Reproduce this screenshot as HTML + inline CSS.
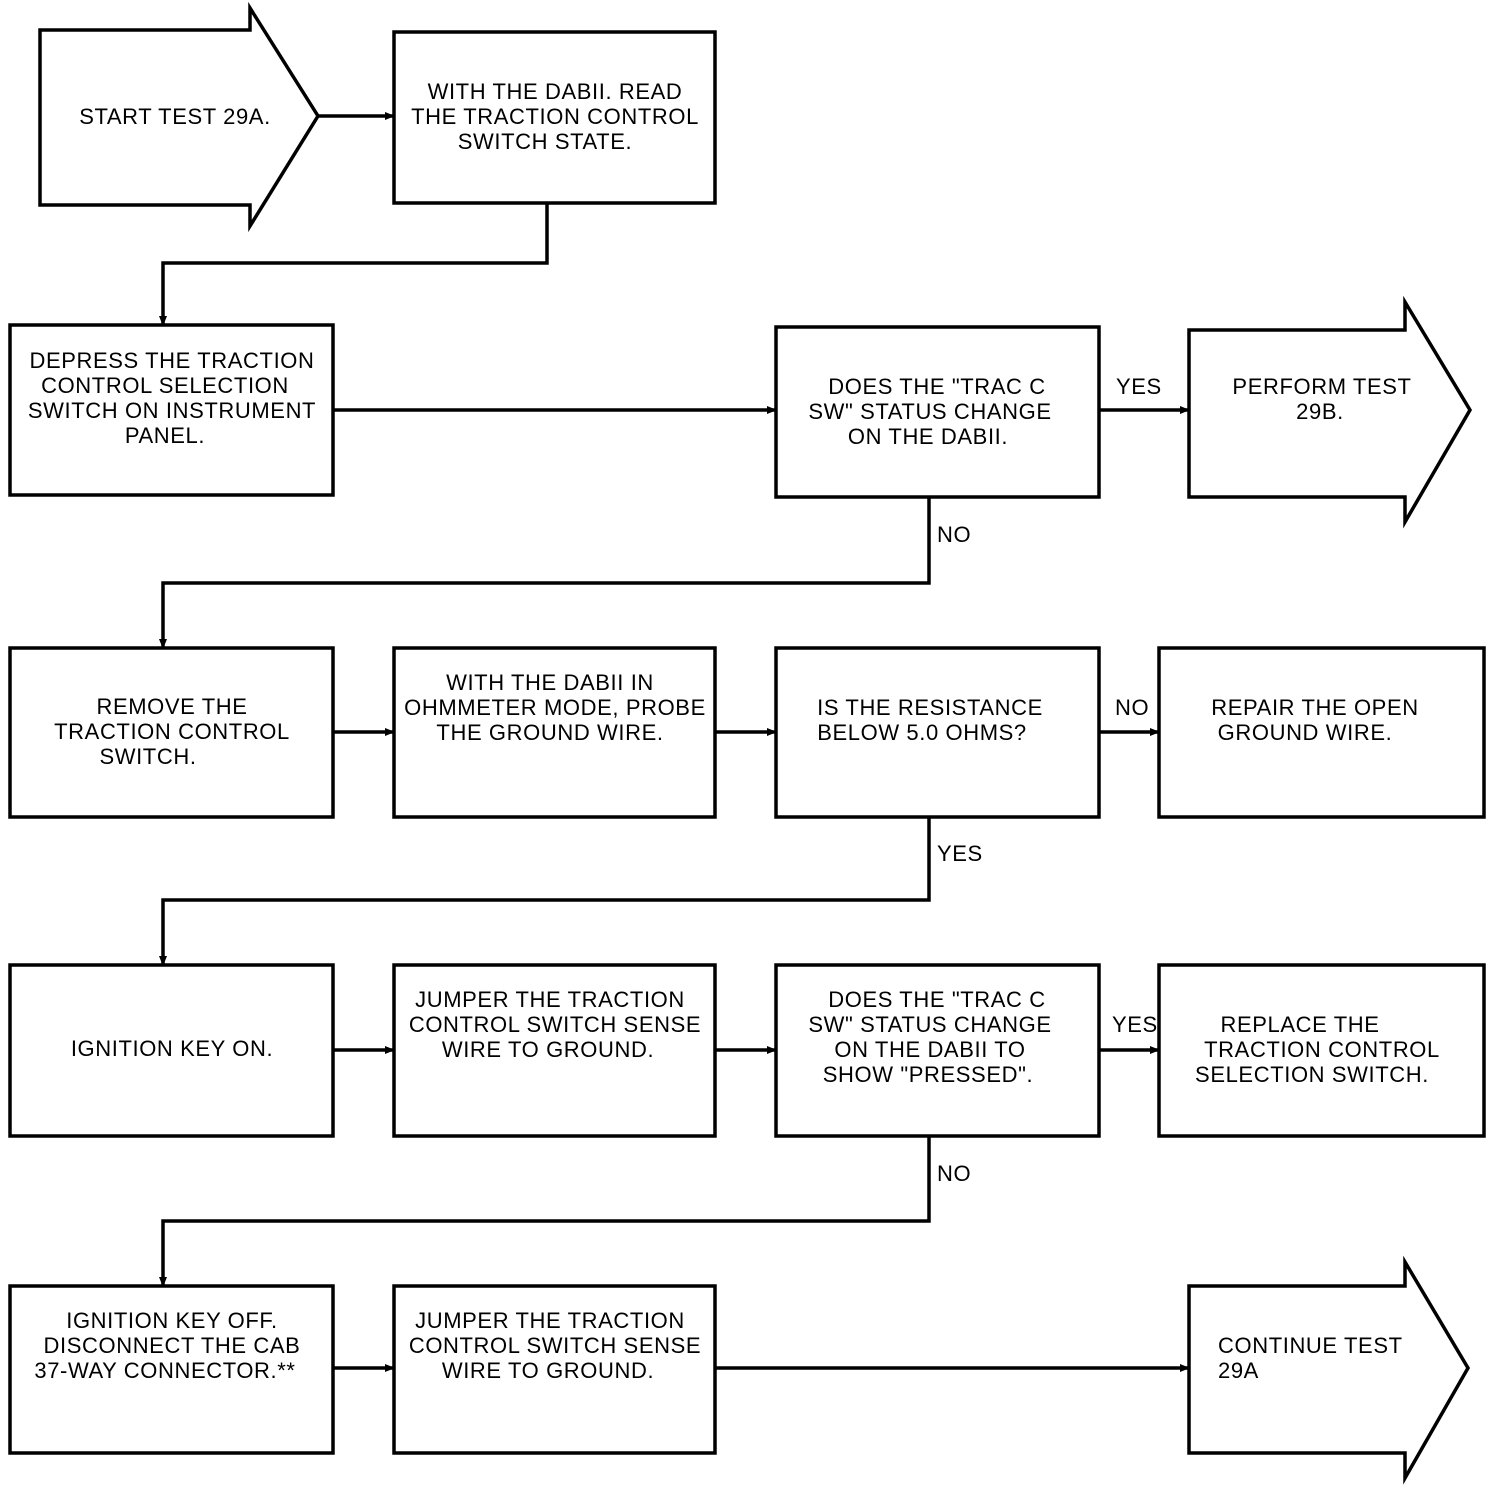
<!DOCTYPE html>
<html><head><meta charset="utf-8"><style>
html,body{margin:0;padding:0;background:#fff}
svg{display:block}
text{font-family:"Liberation Sans",sans-serif;font-size:22px;fill:#000;letter-spacing:0.6px}
</style></head><body>
<svg width="1504" height="1486" viewBox="0 0 1504 1486" xmlns="http://www.w3.org/2000/svg">
<defs><marker id="a" markerWidth="10" markerHeight="10" refX="9" refY="5" orient="auto" markerUnits="userSpaceOnUse"><path d="M0,1 L10,5 L0,9 Z" fill="#000"/></marker></defs>
<g fill="none" stroke="#000" stroke-width="3.5">
<path d="M40,30 H250 V8 L318,116 L250,226 V205 H40 Z"/>
<rect x="394" y="32" width="321" height="171"/>
<path d="M318,116 H394" marker-end="url(#a)"/>
<path d="M547,203 V263 H163 V325" marker-end="url(#a)"/>
<rect x="10" y="325" width="323" height="170"/>
<path d="M333,410 H776" marker-end="url(#a)"/>
<rect x="776" y="327" width="323" height="170"/>
<path d="M1099,410 H1189" marker-end="url(#a)"/>
<path d="M1189,330 H1405 V302 L1470,410 L1405,522 V497 H1189 Z"/>
<path d="M929,497 V583 H163 V648" marker-end="url(#a)"/>
<rect x="10" y="648" width="323" height="169"/>
<rect x="394" y="648" width="321" height="169"/>
<rect x="776" y="648" width="323" height="169"/>
<rect x="1159" y="648" width="325" height="169"/>
<path d="M333,732 H394" marker-end="url(#a)"/>
<path d="M715,732 H776" marker-end="url(#a)"/>
<path d="M1099,732 H1159" marker-end="url(#a)"/>
<path d="M929,817 V900 H163 V965" marker-end="url(#a)"/>
<rect x="10" y="965" width="323" height="171"/>
<rect x="394" y="965" width="321" height="171"/>
<rect x="776" y="965" width="323" height="171"/>
<rect x="1159" y="965" width="325" height="171"/>
<path d="M333,1050 H394" marker-end="url(#a)"/>
<path d="M715,1050 H776" marker-end="url(#a)"/>
<path d="M1099,1050 H1159" marker-end="url(#a)"/>
<path d="M929,1136 V1221 H163 V1286" marker-end="url(#a)"/>
<rect x="10" y="1286" width="323" height="167"/>
<rect x="394" y="1286" width="321" height="167"/>
<path d="M333,1368 H394" marker-end="url(#a)"/>
<path d="M715,1368 H1189" marker-end="url(#a)"/>
<path d="M1189,1286 H1405 V1262 L1468,1368 L1405,1478 V1453 H1189 Z"/>
</g>
<g text-anchor="middle">
<text x="175" y="124">START TEST 29A.</text>
<text x="555" y="99">WITH THE DABII. READ</text>
<text x="555" y="124">THE TRACTION CONTROL</text>
<text x="545" y="149">SWITCH STATE.</text>
<text x="172" y="368">DEPRESS THE TRACTION</text>
<text x="165" y="393">CONTROL SELECTION</text>
<text x="172" y="418">SWITCH ON INSTRUMENT</text>
<text x="165" y="443">PANEL.</text>
<text x="937" y="394">DOES THE "TRAC C</text>
<text x="930" y="419">SW" STATUS CHANGE</text>
<text x="928" y="444">ON THE DABII.</text>
<text x="1322" y="394">PERFORM TEST</text>
<text x="1320" y="419">29B.</text>
<text x="172" y="714">REMOVE THE</text>
<text x="172" y="739">TRACTION CONTROL</text>
<text x="148" y="764">SWITCH.</text>
<text x="550" y="690">WITH THE DABII IN</text>
<text x="555" y="715">OHMMETER MODE, PROBE</text>
<text x="550" y="740">THE GROUND WIRE.</text>
<text x="930" y="715">IS THE RESISTANCE</text>
<text x="922" y="740">BELOW 5.0 OHMS?</text>
<text x="1315" y="715">REPAIR THE OPEN</text>
<text x="1305" y="740">GROUND WIRE.</text>
<text x="172" y="1056">IGNITION KEY ON.</text>
<text x="550" y="1007">JUMPER THE TRACTION</text>
<text x="555" y="1032">CONTROL SWITCH SENSE</text>
<text x="548" y="1057">WIRE TO GROUND.</text>
<text x="937" y="1007">DOES THE "TRAC C</text>
<text x="930" y="1032">SW" STATUS CHANGE</text>
<text x="930" y="1057">ON THE DABII TO</text>
<text x="928" y="1082">SHOW "PRESSED".</text>
<text x="1300" y="1032">REPLACE THE</text>
<text x="1322" y="1057">TRACTION CONTROL</text>
<text x="1312" y="1082">SELECTION SWITCH.</text>
<text x="172" y="1328">IGNITION KEY OFF.</text>
<text x="172" y="1353">DISCONNECT THE CAB</text>
<text x="165" y="1378">37-WAY CONNECTOR.**</text>
<text x="550" y="1328">JUMPER THE TRACTION</text>
<text x="555" y="1353">CONTROL SWITCH SENSE</text>
<text x="548" y="1378">WIRE TO GROUND.</text>
</g>
<text x="1116" y="394">YES</text>
<text x="937" y="542">NO</text>
<text x="1115" y="715">NO</text>
<text x="937" y="861">YES</text>
<text x="1112" y="1032">YES</text>
<text x="937" y="1181">NO</text>
<text x="1218" y="1353">CONTINUE TEST</text>
<text x="1218" y="1378">29A</text>
</svg>
</body></html>
